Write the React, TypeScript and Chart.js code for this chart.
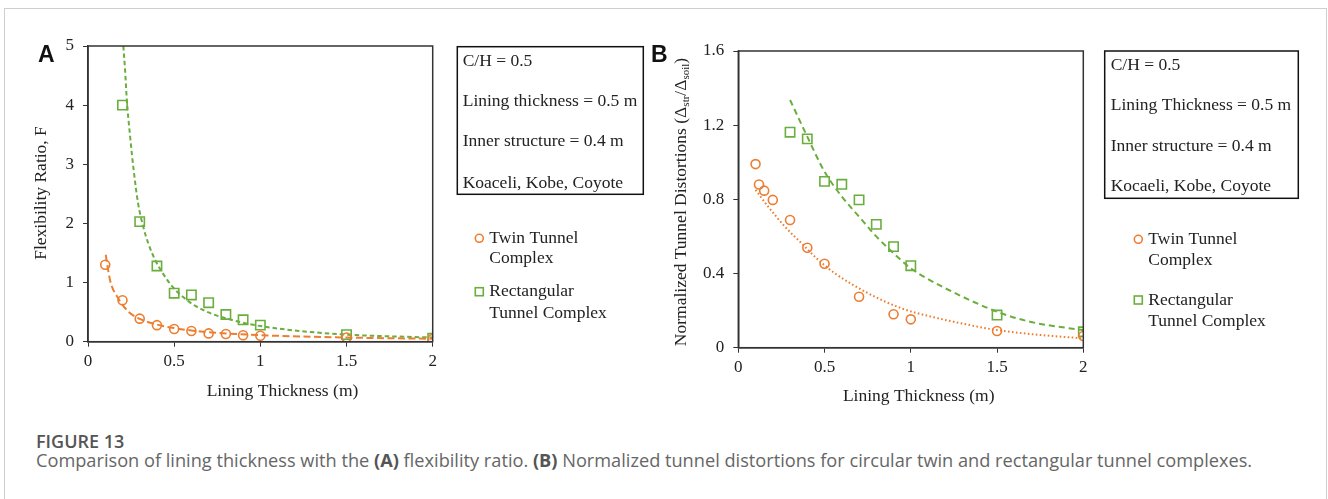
import React, { useEffect, useRef } from 'react';
import { Chart, registerables } from 'chart.js';
Chart.register(...registerables);

// ---------- Panel A : flexibility ratio ----------
const twinThicknessA = [0.1, 0.2, 0.3, 0.4, 0.5, 0.6, 0.7, 0.8, 0.9, 1.0, 1.5, 2.0];
const twinFlexA = [1.3, 0.7, 0.39, 0.28, 0.215, 0.18, 0.14, 0.13, 0.11, 0.1, 0.07, 0.045];
const rectThicknessA = [0.2, 0.3, 0.4, 0.5, 0.6, 0.7, 0.8, 0.9, 1.0, 1.5, 2.0];
const rectFlexA = [4.0, 2.03, 1.28, 0.82, 0.79, 0.66, 0.46, 0.37, 0.28, 0.12, 0.057];
// trend lines
const twinFitXA = [0.103, 0.128, 0.176, 0.234, 0.29, 0.4, 0.5, 0.6, 0.7, 0.8, 1.0, 1.5, 2.0];
const twinFitYA = [1.47, 1.04, 0.73, 0.51, 0.4, 0.29, 0.23, 0.19, 0.16, 0.14, 0.11, 0.07, 0.05];
const rectFitXA = [0.205, 0.215, 0.225, 0.245, 0.265, 0.29, 0.32, 0.35, 0.39, 0.44, 0.49, 0.55, 0.62, 0.72, 0.82, 0.95, 1.2, 1.5, 2.0];
const rectFitYA = [5.0, 4.6, 4.1, 3.45, 2.9, 2.35, 1.95, 1.66, 1.38, 1.13, 0.93, 0.76, 0.61, 0.47, 0.38, 0.29, 0.19, 0.12, 0.07];

// ---------- Panel B : normalized tunnel distortions ----------
const twinThicknessB = [0.1, 0.12, 0.15, 0.2, 0.3, 0.4, 0.5, 0.7, 0.9, 1.0, 1.5, 2.0];
const twinDistB = [0.99, 0.88, 0.847, 0.797, 0.689, 0.539, 0.453, 0.275, 0.18, 0.153, 0.09, 0.063];
const rectThicknessB = [0.3, 0.4, 0.5, 0.6, 0.7, 0.8, 0.9, 1.0, 1.5, 2.0];
const rectDistB = [1.162, 1.126, 0.897, 0.881, 0.797, 0.665, 0.545, 0.442, 0.176, 0.086];
const twinFitXB = [0.1, 0.174, 0.27, 0.367, 0.464, 0.56, 0.754, 0.947, 1.12, 1.3, 1.5, 1.69, 2.0];
const twinFitYB = [0.851, 0.76, 0.653, 0.563, 0.473, 0.401, 0.293, 0.212, 0.167, 0.13, 0.095, 0.074, 0.05];
const rectFitXB = [0.3, 0.4, 0.5, 0.6, 0.7, 0.8, 0.9, 1.0, 1.11, 1.3, 1.5, 1.69, 1.88, 2.0];
const rectFitYB = [1.336, 1.138, 0.949, 0.815, 0.707, 0.6, 0.509, 0.428, 0.365, 0.275, 0.194, 0.14, 0.11, 0.095];

// ---------- ticks & text ----------
const xTickValues = [0, 0.5, 1, 1.5, 2];
const xTickLabels = ['0', '0.5', '1', '1.5', '2'];
const yTickValuesA = [0, 1, 2, 3, 4, 5];
const yTickLabelsA = ['0', '1', '2', '3', '4', '5'];
const yTickValuesB = [0, 0.4, 0.8, 1.2, 1.6];
const yTickLabelsB = ['0', '0.4', '0.8', '1.2', '1.6'];

const seriesNames = ['Twin Tunnel Complex', 'Rectangular Tunnel Complex'];
const legendLines = [['Twin Tunnel', 'Complex'], ['Rectangular', 'Tunnel Complex']];
const notesA = ['C/H = 0.5', 'Lining thickness = 0.5 m', 'Inner structure = 0.4 m', 'Koaceli, Kobe, Coyote'];
const notesB = ['C/H = 0.5', 'Lining Thickness = 0.5 m', 'Inner structure = 0.4 m', 'Kocaeli, Kobe, Coyote'];
const xTitle = 'Lining Thickness (m)';
const yTitleA = [{ t: 'Flexibility Ratio, F' }];
const yTitleB = [
  { t: 'Normalized Tunnel Distortions (Δ' },
  { t: 'str', sub: true },
  { t: '/Δ' },
  { t: 'soil', sub: true },
  { t: ')' },
];

const TWIN = '#ED7D31';
const RECT = '#6AAE3E';
const AXIS = '#333333';
const SERIF = '"Liberation Serif", "Times New Roman", serif';
const TEXT_PX = 17.5;
const TICK_PX = 17;

const pts = (xs: number[], ys: number[]) => xs.map((x, i) => ({ x, y: ys[i] }));

type Spec = {
  offsetX: number;
  letter: string;
  letterPos: [number, number];
  xTitlePos: [number, number];
  yTitle: { t: string; sub?: boolean }[];
  yTitlePos: [number, number];
  notes: string[];
  box: [number, number, number, number];
  notesX: number;
  notesYs: number[];
  markerX: number;
  textX: number;
  legendYs: number[][];
};

function panelPlugin(spec: Spec) {
  return {
    id: 'panelDecor' + spec.letter,
    afterDraw(chart: any) {
      const ctx = chart.ctx as CanvasRenderingContext2D;
      const ox = spec.offsetX;
      const ca = chart.chartArea;
      ctx.save();
      // plot frame
      ctx.strokeStyle = AXIS;
      ctx.lineWidth = 1.5;
      ctx.strokeRect(ca.left, ca.top, ca.right - ca.left, ca.bottom - ca.top);
      // panel letter
      ctx.fillStyle = '#111';
      ctx.font = 'bold 23px "Liberation Sans", Arial, sans-serif';
      ctx.textBaseline = 'alphabetic';
      ctx.textAlign = 'left';
      ctx.fillText(spec.letter, spec.letterPos[0] - ox, spec.letterPos[1]);
      // x title
      ctx.fillStyle = '#222';
      ctx.font = TEXT_PX + 'px ' + SERIF;
      ctx.textAlign = 'center';
      ctx.textBaseline = 'middle';
      ctx.fillText(xTitle, spec.xTitlePos[0] - ox, spec.xTitlePos[1]);
      // y title (rotated, with subscripts)
      const mainFont = TEXT_PX + 'px ' + SERIF;
      const subFont = '11px ' + SERIF;
      let total = 0;
      const widths = spec.yTitle.map((p) => {
        ctx.font = p.sub ? subFont : mainFont;
        const w = ctx.measureText(p.t).width;
        total += w;
        return w;
      });
      ctx.save();
      ctx.translate(spec.yTitlePos[0] - ox, spec.yTitlePos[1]);
      ctx.rotate(-Math.PI / 2);
      ctx.textAlign = 'left';
      let cx = -total / 2;
      spec.yTitle.forEach((p, i) => {
        ctx.font = p.sub ? subFont : mainFont;
        ctx.fillText(p.t, cx, p.sub ? 4.5 : 0);
        cx += widths[i];
      });
      ctx.restore();
      // notes box
      const [bl, bt, br, bb] = spec.box;
      ctx.strokeStyle = '#111';
      ctx.lineWidth = 1.5;
      ctx.strokeRect(bl - ox, bt, br - bl, bb - bt);
      ctx.font = TEXT_PX + 'px ' + SERIF;
      ctx.textAlign = 'left';
      ctx.textBaseline = 'middle';
      ctx.fillStyle = '#222';
      spec.notes.forEach((n, i) => ctx.fillText(n, spec.notesX - ox, spec.notesYs[i]));
      // legend
      chart.data.datasets
        .filter((d: any) => !d.isFit)
        .forEach((d: any, i: number) => {
          const ys = spec.legendYs[i];
          ctx.strokeStyle = d.borderColor;
          ctx.lineWidth = 1.6;
          const mx = spec.markerX - ox;
          if (d.pointStyle === 'circle') {
            ctx.beginPath();
            ctx.arc(mx, ys[0], 4, 0, Math.PI * 2);
            ctx.stroke();
          } else {
            ctx.strokeRect(mx - 4, ys[0] - 4, 8, 8);
          }
          ctx.fillStyle = '#222';
          legendLines[i].forEach((line, j) => ctx.fillText(line, spec.textX - ox, ys[j]));
        });
      ctx.restore();
    },
  };
}

function scale(axis: 'x' | 'y', min: number, max: number, values: number[], labels: string[], size: number, padding: number) {
  return {
    type: 'linear',
    min,
    max,
    afterBuildTicks: (s: any) => {
      s.ticks = values.map((v) => ({ value: v }));
    },
    afterFit: (s: any) => {
      if (axis === 'x') s.height = size;
      else s.width = size;
    },
    ticks: {
      callback: (v: number) => {
        const k = values.findIndex((t) => Math.abs(t - v) < 1e-9);
        return k >= 0 ? labels[k] : '';
      },
      font: { family: SERIF, size: TICK_PX },
      color: '#222',
      padding,
      autoSkip: false,
      maxRotation: 0,
    },
    grid: { drawOnChartArea: false, drawTicks: true, tickLength: 5, color: AXIS, lineWidth: 1 },
    border: { display: true, color: AXIS, width: 1.5 },
  };
}

function datasets(
  twinX: number[], twinY: number[], rectX: number[], rectY: number[],
  twinFX: number[], twinFY: number[], rectFX: number[], rectFY: number[],
  twinDash: number[], rectDash: number[]
) {
  return [
    {
      label: seriesNames[0], data: pts(twinX, twinY), pointStyle: 'circle', pointRadius: 4.5,
      borderColor: TWIN, pointBorderColor: TWIN, pointBackgroundColor: 'rgba(0,0,0,0)', pointBorderWidth: 1.6, showLine: false,
    },
    {
      label: seriesNames[1], data: pts(rectX, rectY), pointStyle: 'rect', pointRadius: 6.6,
      borderColor: RECT, pointBorderColor: RECT, pointBackgroundColor: 'rgba(0,0,0,0)', pointBorderWidth: 1.6, showLine: false,
    },
    {
      label: 'fit twin', isFit: true, data: pts(twinFX, twinFY), showLine: true, pointRadius: 0, borderColor: TWIN,
      borderWidth: 2, borderDash: twinDash, cubicInterpolationMode: 'monotone', fill: false,
    },
    {
      label: 'fit rect', isFit: true, data: pts(rectFX, rectFY), showLine: true, pointRadius: 0, borderColor: RECT,
      borderWidth: 2, borderDash: rectDash, cubicInterpolationMode: 'monotone', fill: false,
    },
  ];
}

const specA: Spec = {
  offsetX: 0,
  letter: 'A',
  letterPos: [38, 62],
  xTitlePos: [282.5, 391.7],
  yTitle: yTitleA,
  yTitlePos: [41.7, 193],
  notes: notesA,
  box: [457.3, 46.7, 643.3, 194.3],
  notesX: 462.7,
  notesYs: [61.7, 101.7, 141.7, 183.3],
  markerX: 479.3,
  textX: 489.3,
  legendYs: [[238.3, 258.3], [291.7, 313.3]],
};
const B_LEFT = 640;
const specB: Spec = {
  offsetX: B_LEFT,
  letter: 'B',
  letterPos: [651, 62],
  xTitlePos: [918.7, 396.7],
  yTitle: yTitleB,
  yTitlePos: [681.7, 202],
  notes: notesB,
  box: [1104.7, 51, 1298.3, 198.3],
  notesX: 1110.7,
  notesYs: [65, 105, 146, 186.7],
  markerX: 1138.3,
  textX: 1148.3,
  legendYs: [[239.3, 260], [300, 321]],
};

export default function App() {
  const refA = useRef<HTMLCanvasElement>(null);
  const refB = useRef<HTMLCanvasElement>(null);
  const wB = 1328 - B_LEFT;

  useEffect(() => {
    const common = (padding: any) => ({
      responsive: false,
      animation: false,
      layout: { padding },
      plugins: { legend: { display: false }, tooltip: { enabled: false } },
    });
    const chartA = new Chart(refA.current!, {
      type: 'scatter',
      data: {
        datasets: datasets(twinThicknessA, twinFlexA, rectThicknessA, rectFlexA, twinFitXA, twinFitYA, rectFitXA, rectFitYA, [7, 3.5], [4.5, 3]) as any,
      },
      options: {
        ...common({ left: 0, top: 46, right: 660 - 432.7, bottom: 0 }),
        scales: {
          x: scale('x', 0, 2, xTickValues, xTickLabels, 420 - 341.7, 5),
          y: scale('y', 0, 5, yTickValuesA, yTickLabelsA, 88, 9),
        },
      } as any,
      plugins: [panelPlugin(specA)],
    });
    const chartB = new Chart(refB.current!, {
      type: 'scatter',
      data: {
        datasets: datasets(twinThicknessB, twinDistB, rectThicknessB, rectDistB, twinFitXB, twinFitYB, rectFitXB, rectFitYB, [1.6, 2.4], [6, 4]) as any,
      },
      options: {
        ...common({ left: 0, top: 51, right: wB - (1083.3 - B_LEFT), bottom: 0 }),
        scales: {
          x: scale('x', 0, 2, xTickValues, xTickLabels, 420 - 347.7, 5),
          y: scale('y', 0, 1.6, yTickValuesB, yTickLabelsB, 738.3 - B_LEFT, 9),
        },
      } as any,
      plugins: [panelPlugin(specB)],
    });
    return () => {
      chartA.destroy();
      chartB.destroy();
    };
  }, []);

  return (
    <div style={{ position: 'absolute', left: 0, top: 0, width: 1328, height: 499, overflow: 'hidden', background: '#fff' }}>
      <div style={{ position: 'absolute', left: 4, top: 8, width: 1321, height: 600, border: '1px solid #cfcfcf' }} />
      <canvas ref={refA} width={660} height={420} style={{ position: 'absolute', left: 0, top: 0, width: 660, height: 420 }} />
      <canvas ref={refB} width={wB} height={420} style={{ position: 'absolute', left: B_LEFT, top: 0, width: wB, height: 420 }} />
      <div style={{ position: 'absolute', left: 36, top: 432, fontFamily: '"Open Sans", sans-serif', fontWeight: 600, fontSize: 18, lineHeight: '19px', color: '#555', whiteSpace: 'nowrap' }}>
        FIGURE 13
      </div>
      <div style={{ position: 'absolute', left: 36, top: 450, fontFamily: '"Open Sans", sans-serif', fontSize: 18.2, lineHeight: '20px', color: '#666', whiteSpace: 'nowrap' }}>
        Comparison of lining thickness with the <b style={{ color: '#555' }}>(A)</b> flexibility ratio. <b style={{ color: '#555' }}>(B)</b> Normalized tunnel distortions for circular twin and rectangular tunnel complexes.
      </div>
    </div>
  );
}
